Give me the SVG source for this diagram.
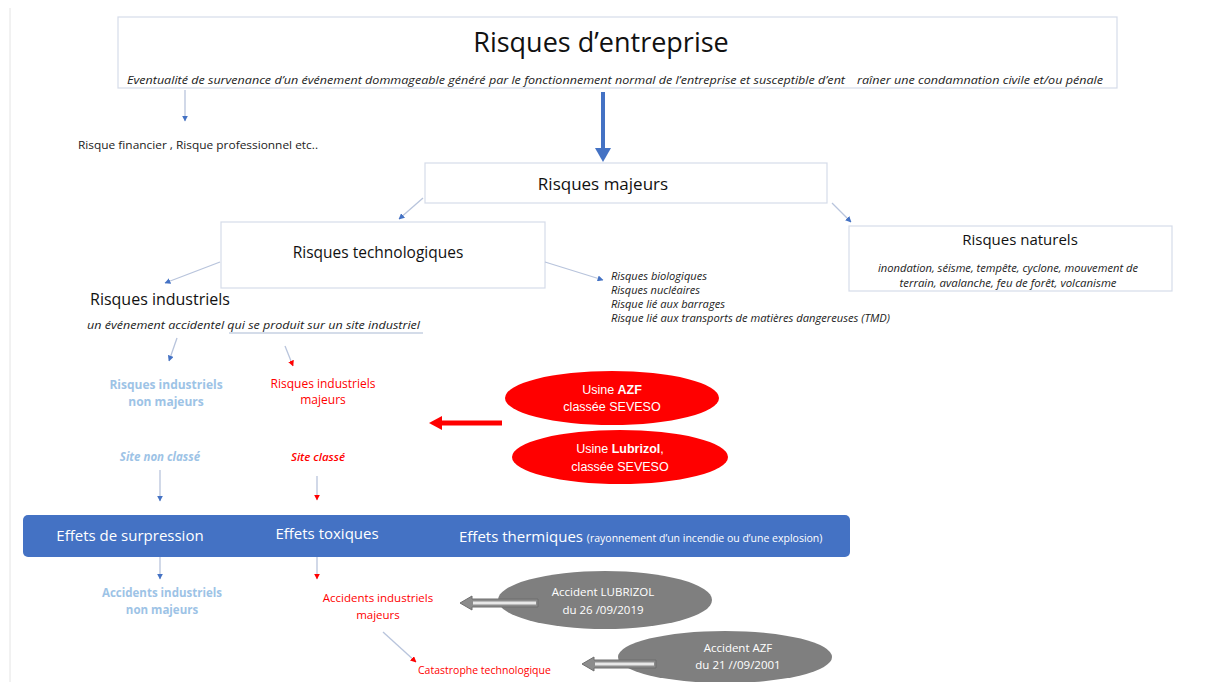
<svg xmlns="http://www.w3.org/2000/svg" width="1214" height="682" viewBox="0 0 1214 682">
<style>
.box{fill:#fff;stroke:#d6dce9;stroke-width:1.2}
.t{font-family:"Liberation Sans","DejaVu Sans",sans-serif}
.c{font-family:"Open Sans","Liberation Sans",sans-serif}
.it{font-style:italic}
.con{stroke:#b8c4dc;stroke-width:1.3;fill:none}
.blue{fill:#9dc3e6;font-weight:bold}
.red{fill:#ff0000}
.w{fill:#fff}
</style>
<defs>
<marker id="hb" viewBox="0 0 10 10" refX="9" refY="5" markerWidth="6" markerHeight="6" orient="auto" markerUnits="userSpaceOnUse"><path d="M0,0 L10,5 L0,10 z" fill="#4472c4"/></marker>
<marker id="hr" viewBox="0 0 10 10" refX="9" refY="5" markerWidth="6" markerHeight="6" orient="auto" markerUnits="userSpaceOnUse"><path d="M0,0 L10,5 L0,10 z" fill="#ff0000"/></marker>
</defs>
<rect width="1214" height="682" fill="#fff"/>
<line x1="10" y1="8" x2="10" y2="682" stroke="#e4e4e4" stroke-width="1"/>

<g id="entreprise">
<rect class="box" x="118" y="17" width="999" height="71"/>
<text class="c" x="601" y="52" font-size="27" text-anchor="middle" fill="#111">Risques d’entreprise</text>
<text class="c it" x="127" y="84" font-size="11" fill="#222" textLength="718" lengthAdjust="spacingAndGlyphs">Eventualité de survenance d’un événement dommageable généré par le fonctionnement normal de l’entreprise et susceptible d’ent</text>
<text class="c it" x="857" y="84" font-size="11" fill="#222" textLength="246" lengthAdjust="spacingAndGlyphs">raîner une condamnation civile et/ou pénale</text>
</g>

<g id="autres">
<text class="c" x="78" y="149" font-size="11.5" fill="#222" textLength="240" lengthAdjust="spacingAndGlyphs">Risque financier , Risque professionnel etc..</text>
</g>

<g id="majeurs">
<rect class="box" x="425" y="163" width="402" height="40"/>
<text class="c" x="603" y="190" font-size="17" text-anchor="middle" fill="#111">Risques majeurs</text>
</g>

<g id="techno">
<rect class="box" x="221" y="222" width="324" height="66"/>
<text class="c" x="378" y="258" font-size="15.5" text-anchor="middle" fill="#111">Risques technologiques</text>
</g>

<g id="naturels">
<rect class="box" x="849" y="226" width="323" height="65"/>
<text class="c" x="1020" y="245" font-size="15" text-anchor="middle" fill="#111">Risques naturels</text>
<text class="c it" x="1008" y="272" font-size="10.5" text-anchor="middle" fill="#222" textLength="260" lengthAdjust="spacingAndGlyphs">inondation, séisme, tempête, cyclone, mouvement de</text>
<text class="c it" x="1008" y="287" font-size="10.5" text-anchor="middle" fill="#222" textLength="217" lengthAdjust="spacingAndGlyphs">terrain, avalanche, feu de forêt, volcanisme</text>
</g>

<g id="autres-techno">
<text class="c it" x="611" y="280" font-size="10.5" fill="#222" textLength="96" lengthAdjust="spacingAndGlyphs">Risques biologiques</text>
<text class="c it" x="611" y="294" font-size="10.5" fill="#222" textLength="89" lengthAdjust="spacingAndGlyphs">Risques nucléaires</text>
<text class="c it" x="611" y="308" font-size="10.5" fill="#222" textLength="114" lengthAdjust="spacingAndGlyphs">Risque lié aux barrages</text>
<text class="c it" x="611" y="322" font-size="10.5" fill="#222" textLength="279" lengthAdjust="spacingAndGlyphs">Risque lié aux transports de matières dangereuses (TMD)</text>
</g>

<g id="industriels">
<text class="c" x="90" y="305" font-size="16" fill="#111">Risques industriels</text>
<text class="c it" x="87" y="329" font-size="11" fill="#222" textLength="333" lengthAdjust="spacingAndGlyphs">un événement accidentel  qui se produit sur un site industriel</text>
<line x1="229" y1="333" x2="423" y2="333" stroke="#c6d0e2" stroke-width="1.5"/>
</g>

<g id="ri-non-majeurs">
<text class="c blue" x="166" y="389" font-size="12" text-anchor="middle">Risques industriels</text>
<text class="c blue" x="166" y="406" font-size="12" text-anchor="middle">non majeurs</text>
</g>
<g id="ri-majeurs">
<text class="c red" x="323" y="388" font-size="12" text-anchor="middle">Risques industriels</text>
<text class="c red" x="323" y="404" font-size="12" text-anchor="middle">majeurs</text>
</g>

<g id="site-non-classe">
<text class="c it blue" x="160" y="461" font-size="11.5" text-anchor="middle">Site non classé</text>
</g>
<g id="site-classe">
<text class="c it red" x="318" y="461" font-size="11.5" font-weight="600" text-anchor="middle">Site classé</text>
</g>

<g id="usine-azf">
<ellipse cx="612" cy="398" rx="107" ry="27" fill="#ff0000"/>
<text class="t w" x="612" y="394" font-size="12.5" text-anchor="middle">Usine <tspan font-weight="bold">AZF</tspan></text>
<text class="t w" x="612" y="411" font-size="12.5" text-anchor="middle">classée SEVESO</text>
</g>
<g id="usine-lubrizol">
<ellipse cx="620" cy="457" rx="108" ry="27" fill="#ff0000"/>
<text class="t w" x="620" y="453" font-size="12.5" text-anchor="middle">Usine <tspan font-weight="bold">Lubrizol</tspan>,</text>
<text class="t w" x="620" y="471" font-size="12.5" text-anchor="middle">classée SEVESO</text>
</g>

<g id="effets">
<rect x="23" y="515" width="827" height="42" rx="5" fill="#4472c4"/>
<text class="c w" x="130" y="541" font-size="15" text-anchor="middle">Effets de surpression</text>
<text class="c w" x="327" y="539" font-size="15" text-anchor="middle">Effets toxiques</text>
<text class="c w" x="459" y="542" font-size="15">Effets thermiques <tspan font-size="10.5">(rayonnement d’un incendie ou d’une explosion)</tspan></text>
</g>

<g id="acc-non-majeurs">
<text class="c blue" x="162" y="597" font-size="11.5" text-anchor="middle">Accidents industriels</text>
<text class="c blue" x="162" y="614" font-size="11.5" text-anchor="middle">non majeurs</text>
</g>
<g id="acc-majeurs">
<text class="c red" x="378" y="602" font-size="11.5" text-anchor="middle">Accidents industriels</text>
<text class="c red" x="378" y="619" font-size="11.5" text-anchor="middle">majeurs</text>
</g>
<g id="catastrophe">
<text class="c red" x="418" y="674" font-size="10.5">Catastrophe technologique</text>
</g>

<g id="acc-lubrizol">
<ellipse cx="605" cy="600" rx="107" ry="29" fill="#7f7f7f"/>
<text class="c w" x="603" y="596" font-size="11.5" text-anchor="middle">Accident LUBRIZOL</text>
<text class="c w" x="603" y="614" font-size="11.5" text-anchor="middle">du 26 /09/2019</text>
</g>
<g id="acc-azf">
<ellipse cx="725" cy="657" rx="107" ry="26" fill="#7f7f7f"/>
<text class="c w" x="738" y="652" font-size="11.5" text-anchor="middle">Accident AZF</text>
<text class="c w" x="738" y="669" font-size="11.5" text-anchor="middle">du 21 //09/2001</text>
</g>

<g id="connectors">
<line class="con" x1="185" y1="90" x2="185" y2="121" marker-end="url(#hb)"/>
<line x1="603" y1="92" x2="603" y2="150" stroke="#4472c4" stroke-width="4"/>
<path d="M595,148 L611,148 L603,162 z" fill="#4472c4"/>
<line class="con" x1="423" y1="198" x2="399" y2="219" marker-end="url(#hb)"/>
<line class="con" x1="832" y1="203" x2="851" y2="222" marker-end="url(#hb)"/>
<line class="con" x1="220" y1="262" x2="165" y2="283" marker-end="url(#hb)"/>
<line class="con" x1="545" y1="262" x2="603" y2="280" marker-end="url(#hb)"/>
<line class="con" x1="177" y1="338" x2="169" y2="361" marker-end="url(#hb)"/>
<line class="con" x1="285" y1="346" x2="293" y2="366" marker-end="url(#hr)"/>
<line class="con" x1="160" y1="470" x2="160" y2="501" marker-end="url(#hb)"/>
<line class="con" x1="317" y1="476" x2="317" y2="500" marker-end="url(#hr)"/>
<line class="con" x1="160" y1="557" x2="160" y2="579" marker-end="url(#hb)"/>
<line class="con" x1="317" y1="557" x2="317" y2="579" marker-end="url(#hr)"/>
<line class="con" x1="383" y1="632" x2="416" y2="662" marker-end="url(#hr)"/>
<line x1="502" y1="423" x2="440" y2="423" stroke="#ff0000" stroke-width="5"/>
<path d="M442,416 L429,423 L442,430 z" fill="#ff0000"/>
<path d="M538,599 L472,599 L472,596 L460,603 L472,610 L472,607 L538,607 z" fill="#8c8c8c" stroke="#6f6f6f" stroke-width="1"/>
<rect x="473" y="601.5" width="63" height="3" fill="#e8e8e8"/>
<path d="M656,660 L594,660 L594,657 L582,664 L594,671 L594,668 L656,668 z" fill="#8c8c8c" stroke="#6f6f6f" stroke-width="1"/>
<rect x="595" y="662.5" width="59" height="3" fill="#e8e8e8"/>
</g>
</svg>
